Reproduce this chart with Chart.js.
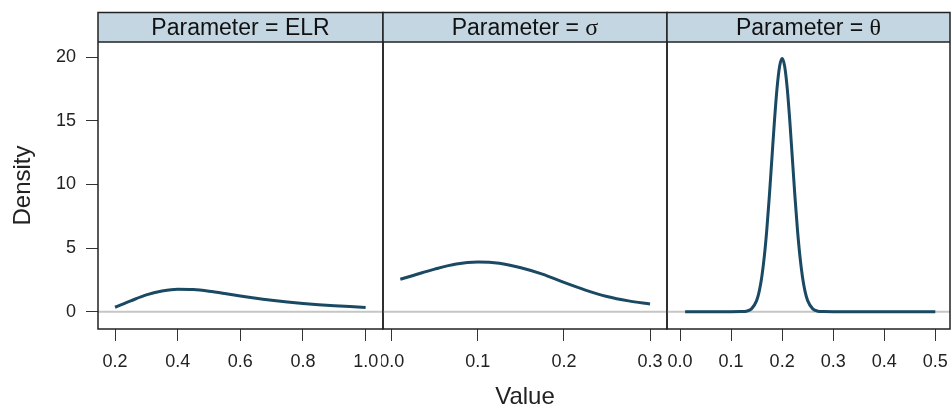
<!DOCTYPE html>
<html>
<head>
<meta charset="utf-8">
<script src="https://cdn.jsdelivr.net/npm/chart.js@4.4.1/dist/chart.umd.min.js"></script>
<style>
  body { margin: 0; background: #fff; }
  #wrap { position: relative; width: 951px; height: 409px; overflow: hidden; }
  #wrap canvas { position: absolute; top: 0; }
</style>
</head>
<body>
<div id="wrap">
  <canvas id="c1" width="385" height="412" style="left:0px"></canvas>
  <canvas id="c2" width="288" height="412" style="left:381px"></canvas>
  <canvas id="c3" width="287" height="412" style="left:665px"></canvas>
</div>
<script>
// density curves
const elrX = [0.2, 0.25, 0.3, 0.35, 0.4, 0.45, 0.5, 0.55, 0.6, 0.65, 0.7, 0.75, 0.8, 0.85, 0.9, 0.95, 1.0];
const elrY = [0.35, 0.85, 1.32, 1.62, 1.77, 1.74, 1.61, 1.43, 1.23, 1.05, 0.9, 0.77, 0.65, 0.55, 0.47, 0.4, 0.33];

const sigmaX = [0.01, 0.025, 0.05, 0.075, 0.1, 0.125, 0.15, 0.175, 0.2, 0.225, 0.25, 0.275, 0.3];
const sigmaY = [2.55, 2.85, 3.35, 3.75, 3.9, 3.8, 3.45, 2.95, 2.3, 1.7, 1.2, 0.85, 0.6];

const thetaX = [0.01, 0.05, 0.1, 0.12, 0.13, 0.14, 0.15, 0.155, 0.16, 0.165, 0.17, 0.175, 0.18, 0.185, 0.19, 0.195, 0.2,
                0.205, 0.21, 0.215, 0.22, 0.225, 0.23, 0.235, 0.24, 0.245, 0.25, 0.26, 0.27, 0.28, 0.3, 0.4, 0.5];
const thetaY = [0, 0, 0, 0.01, 0.04, 0.22, 0.87, 1.58, 2.69, 4.31, 6.46, 9.11, 12.07, 15.02, 17.56, 19.28, 19.9,
                19.28, 17.56, 15.02, 12.07, 9.11, 6.46, 4.31, 2.69, 1.58, 0.87, 0.22, 0.04, 0.01, 0, 0, 0];

const FONT = '"Liberation Sans", Arial, sans-serif';
const LINE_COLOR = '#1a4963';
const Y_MIN = -1.36;
const Y_MAX = 21.2;

// strip header, panel box and zero reference line
const panelBox = {
    id: 'panelBox',
    beforeDatasetsDraw(chart) {
        const { ctx, chartArea: a, scales } = chart;
        const y0 = scales.y.getPixelForValue(0);
        ctx.save();
        ctx.strokeStyle = '#c6c6c6';
        ctx.lineWidth = 2;
        ctx.beginPath();
        ctx.moveTo(a.left, y0);
        ctx.lineTo(a.right, y0);
        ctx.stroke();
        ctx.restore();
    },
    afterDraw(chart, args, opts) {
        const { ctx, chartArea: a } = chart;
        const top = 12.5;
        ctx.save();
        ctx.fillStyle = '#c3d6e2';
        ctx.fillRect(a.left, top, a.width, a.top - top);
        ctx.strokeStyle = '#222';
        ctx.lineWidth = 1.5;
        ctx.strokeRect(a.left, top, a.width, a.bottom - top);
        ctx.beginPath();
        ctx.moveTo(a.left, a.top);
        ctx.lineTo(a.right, a.top);
        ctx.stroke();

        // label: "Parameter = " + symbol
        const prefixFont = '23px ' + FONT;
        const symFont = opts.serif ? '24px "Liberation Serif", "DejaVu Serif", serif' : prefixFont;
        ctx.font = prefixFont;
        const w1 = ctx.measureText(opts.prefix).width;
        ctx.font = symFont;
        const w2 = ctx.measureText(opts.sym).width;
        const x = (a.left + a.right) / 2 - (w1 + w2) / 2;
        const y = (top + a.top) / 2 + 1;
        ctx.fillStyle = '#111';
        ctx.textBaseline = 'middle';
        ctx.textAlign = 'left';
        ctx.font = prefixFont;
        ctx.fillText(opts.prefix, x, y);
        ctx.font = symFont;
        ctx.fillText(opts.sym, x + w1, y);
        ctx.restore();
    }
};

function makePanel(id, xs, ys, xMin, xMax, step, strip, showY, showTitle, pad) {
    const points = xs.map((x, i) => ({ x: x, y: ys[i] }));
    return new Chart(document.getElementById(id), {
        type: 'line',
        data: {
            datasets: [{
                data: points,
                borderColor: LINE_COLOR,
                borderWidth: 3,
                pointRadius: 0,
                fill: false,
                cubicInterpolationMode: 'monotone'
            }]
        },
        options: {
            responsive: false,
            animation: false,
            layout: { padding: pad },
            plugins: {
                legend: { display: false },
                tooltip: { enabled: false },
                panelBox: strip
            },
            scales: {
                x: {
                    type: 'linear',
                    min: xMin,
                    max: xMax,
                    ticks: {
                        stepSize: step,
                        includeBounds: false,
                        autoSkip: false,
                        maxRotation: 0,
                        padding: 10,
                        color: '#222',
                        font: { size: 18, family: FONT },
                        callback: v => v.toFixed(1)
                    },
                    grid: { drawOnChartArea: false, drawTicks: true, tickLength: 12, color: '#333', lineWidth: 1 },
                    border: { display: false },
                    title: {
                        display: showTitle,
                        text: 'Value',
                        color: '#222',
                        font: { size: 24, family: FONT },
                        padding: 0
                    },
                    afterFit: s => { s.height = 83; s.paddingLeft = 0; s.paddingRight = 0; }
                },
                y: {
                    display: showY,
                    min: Y_MIN,
                    max: Y_MAX,
                    ticks: {
                        stepSize: 5,
                        includeBounds: false,
                        padding: 10,
                        color: '#222',
                        font: { size: 18, family: FONT }
                    },
                    grid: { drawOnChartArea: false, drawTicks: true, tickLength: 12, color: '#333', lineWidth: 1 },
                    border: { display: false },
                    title: {
                        display: true,
                        text: 'Density',
                        color: '#222',
                        font: { size: 24, family: FONT },
                        padding: { top: 9, bottom: 9 }
                    },
                    afterFit: s => { s.width = showY ? 98 : 0; s.paddingTop = 0; s.paddingBottom = 0; }
                }
            }
        },
        plugins: [panelBox]
    });
}

makePanel('c1', elrX, elrY, 0.1457, 1.0554, 0.2,
    { prefix: 'Parameter = ', sym: 'ELR', serif: false }, true, false,
    { top: 42, left: 0, right: 2, bottom: 0 });
makePanel('c2', sigmaX, sigmaY, -0.0101, 0.3197, 0.1,
    { prefix: 'Parameter = ', sym: 'σ', serif: true }, false, true,
    { top: 42, left: 2, right: 2, bottom: 0 });
makePanel('c3', thetaX, thetaY, -0.0255, 0.5288, 0.1,
    { prefix: 'Parameter = ', sym: 'θ', serif: true }, false, false,
    { top: 42, left: 2, right: 2, bottom: 0 });
</script>
</body>
</html>
